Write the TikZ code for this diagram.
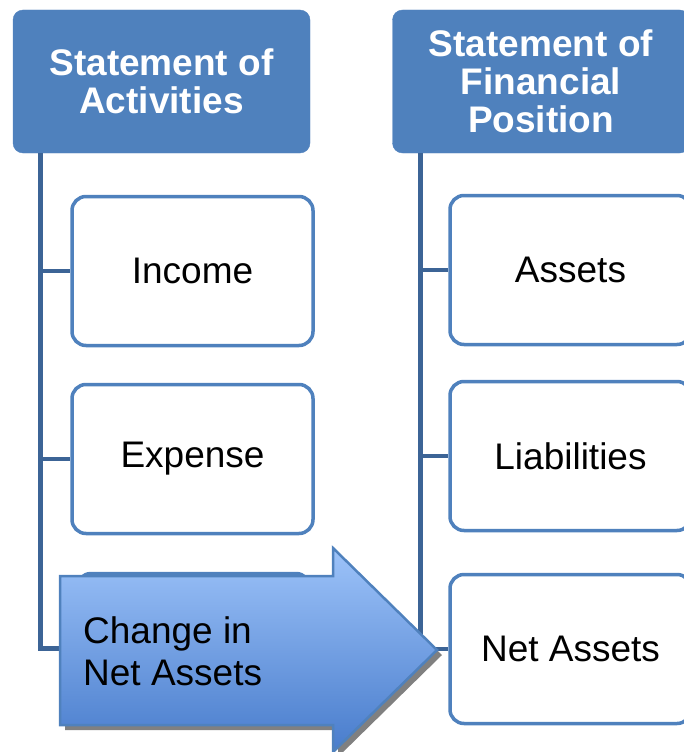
\documentclass[tikz,border=0pt]{standalone}
\usepackage{fontspec}
\setmainfont{Liberation Sans}
\usepackage{tikz}
\usetikzlibrary{shadows}
\definecolor{hdrblue}{RGB}{79,129,189}
\definecolor{treeblue}{RGB}{60,100,150}
\definecolor{arrtop}{RGB}{157,195,249}
\definecolor{arrbot}{RGB}{72,124,204}
\tikzset{header/.style={draw=hdrblue,fill=hdrblue,rounded corners=10pt,text=white,
                        align=center,minimum width=297pt,minimum height=143pt,
                        inner sep=0pt,font=\fontsize{37}{38}\selectfont\bfseries}}
\tikzset{item/.style={draw=hdrblue,line width=3.5pt,fill=white,rounded corners=14pt,
                      minimum width=241pt,minimum height=149pt,
                      inner sep=0pt,font=\fontsize{37}{42}\selectfont}}
\def\rootsep{28pt}

\begin{document}
\begin{tikzpicture}[x=1pt,y=-1pt]
    \tikzstyle{tree}=[draw=treeblue,line width=5pt]
    \tikzstyle{branch}=[draw=treeblue,line width=4pt]
    \tikzstyle{bigarrow}=[draw=hdrblue,line width=2.5pt,top color=arrtop,bottom color=arrbot,
                          drop shadow={shadow xshift=5pt,shadow yshift=-5pt,fill=black!50,opacity=1}]
    \useasboundingbox (0,0) rectangle (683,752);

    % headers
    \node[header] (actHead) at (161.5,81.5) {Statement of\\Activities};
    \node[header] (posHead) at (541,81.5) {Statement of\\Financial\\Position};
    \coordinate (actRoot) at ([xshift=\rootsep]actHead.south west);
    \coordinate (posRoot) at ([xshift=\rootsep]posHead.south west);

    % left column
    \node[item] (act1) at (192.5,271) {Income};
    \node[item] (act2) at (192.5,459) {Expense};
    \node[item,fill=hdrblue,minimum width=233pt] (act3) at (193.5,648) {};
    \draw[tree] (actRoot) |- (act3.west);
    \foreach \i in {1,2}{%
          \draw[branch] (actRoot |- act\i.west) -- (act\i.west);
		}

    % right column
    \foreach \t/\y [count=\i] in {Assets/270,Liabilities/456,Net Assets/649}{%
          \node[item] (pos\i) at (570.5,\y) {\t};
          \draw[branch] (posRoot |- pos\i.west) -- (pos\i.west);
		}
    \draw[tree] (posRoot) -- (posRoot |- pos3.west);

    % arrow
    \path[bigarrow] (60,576) -- (333,576) -- (333,548) -- (437,650)
                    -- (333,752) -- (333,725) -- (60,725) -- cycle;
    \node[anchor=west,align=left,inner sep=0pt,font=\fontsize{37}{42}\selectfont]
          (chgText) at (83,651) {Change in\\Net Assets};
    \end{tikzpicture}
\end{document}
